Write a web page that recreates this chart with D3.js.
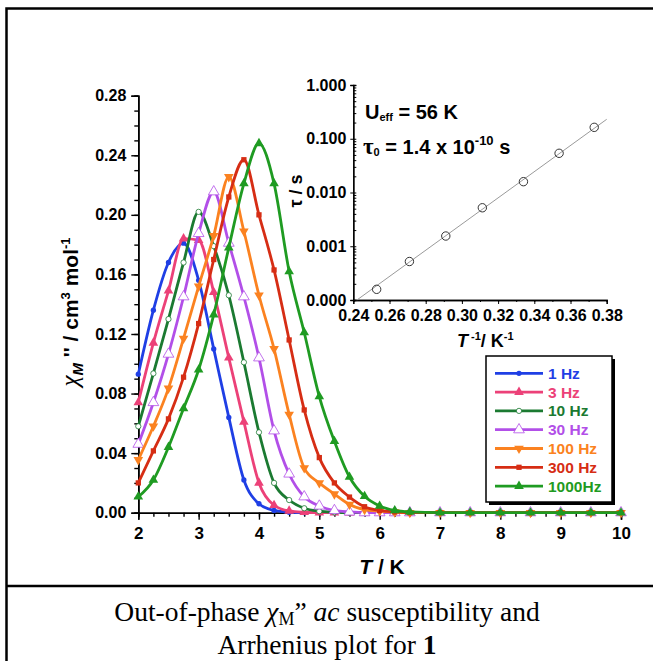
<!DOCTYPE html>
<html>
<head>
<meta charset="utf-8">
<script src="https://cdnjs.cloudflare.com/ajax/libs/d3/7.8.5/d3.min.js"></script>
<style>
  body { margin: 0; background: #fff; }
  svg text { font-family: "Liberation Sans", Arial, sans-serif; font-weight: bold; }
</style>
</head>
<body>
<div id="container"></div>
<script>
// temperatures (K)
const temps = [2, 2.25, 2.5, 2.75, 3, 3.25, 3.5, 3.75, 4, 4.25, 4.5, 4.75, 5, 5.25, 5.5, 5.75, 6, 6.25, 6.5, 7, 7.5, 8, 8.5, 9, 9.5, 10]

// chi'' values per frequency
const chi1Hz = [0.093, 0.136, 0.168, 0.181, 0.156, 0.110, 0.064, 0.022, 0.006, 0.0015, 0.0003, 0, 0, 0, 0, 0, 0, 0, 0, 0, 0, 0, 0, 0, 0, 0]
const chi3Hz = [0.074, 0.114, 0.149, 0.184, 0.183, 0.148, 0.104, 0.061, 0.020, 0.005, 0.0012, 0.0003, 0, 0, 0, 0, 0, 0, 0, 0, 0, 0, 0, 0, 0, 0]
const chi10Hz = [0.058, 0.0935, 0.130, 0.168, 0.202, 0.179, 0.146, 0.101, 0.054, 0.020, 0.0085, 0.003, 0.001, 0.0003, 0, 0, 0, 0, 0, 0, 0, 0, 0, 0, 0, 0]
const chi30Hz = [0.046, 0.074, 0.1065, 0.145, 0.1875, 0.2155, 0.181, 0.145, 0.104, 0.055, 0.026, 0.0107, 0.0045, 0.0015, 0.0005, 0, 0, 0, 0, 0, 0, 0, 0, 0, 0, 0]
const chi100Hz = [0.0355, 0.058, 0.0835, 0.117, 0.152, 0.186, 0.2255, 0.189, 0.146, 0.110, 0.066, 0.030, 0.020, 0.0125, 0.0055, 0.002, 0.001, 0.0004, 0, 0, 0, 0, 0, 0, 0, 0]
const chi300Hz = [0.020, 0.0415, 0.063, 0.091, 0.127, 0.170, 0.212, 0.237, 0.200, 0.163, 0.116, 0.069, 0.037, 0.020, 0.0105, 0.004, 0.0015, 0.0005, 0, 0, 0, 0, 0, 0, 0, 0]
const chi1000Hz = [0.0107, 0.022, 0.044, 0.070, 0.096, 0.133, 0.178, 0.221, 0.248, 0.221, 0.162, 0.121, 0.078, 0.048, 0.024, 0.011, 0.0045, 0.0015, 0.0005, 0, 0, 0, 0, 0, 0, 0]

const seriesNames = ["1 Hz", "3 Hz", "10 Hz", "30 Hz", "100 Hz", "300 Hz", "1000Hz"]

// arrhenius inset
const invT = [0.2529, 0.271, 0.2911, 0.3113, 0.334, 0.3537, 0.3731]
const tau = [0.000158, 0.00052, 0.00155, 0.0052, 0.0159, 0.0536, 0.163]
const fitInvT = [0.242, 0.38]
const fitTau = [0.0001, 0.23]

const yTicks = [0, 0.04, 0.08, 0.12, 0.16, 0.20, 0.24, 0.28]
const xTicks = [2, 3, 4, 5, 6, 7, 8, 9, 10]
const insetXTicks = [0.24, 0.26, 0.28, 0.30, 0.32, 0.34, 0.36, 0.38]
const insetYTicks = [0.0001, 0.001, 0.01, 0.1, 1]

const W = 653, H = 661

const styles = [
  {color: "#1f3fe5", sym: d3.symbolCircle, size: 22, fill: "full", rot: 0},
  {color: "#ec4178", sym: d3.symbolTriangle, size: 40, fill: "full", rot: 0},
  {color: "#1b7a31", sym: d3.symbolCircle, size: 22, fill: "open", rot: 0},
  {color: "#b24fe8", sym: d3.symbolTriangle, size: 50, fill: "open", rot: 0},
  {color: "#fb8220", sym: d3.symbolTriangle, size: 40, fill: "full", rot: 180},
  {color: "#d62d14", sym: d3.symbolSquare, size: 28, fill: "full", rot: 0},
  {color: "#1f9b22", sym: d3.symbolTriangle, size: 40, fill: "full", rot: 0}
]
const allSeries = [chi1Hz, chi3Hz, chi10Hz, chi30Hz, chi100Hz, chi300Hz, chi1000Hz]

const svg = d3.select("#container")
  .append("svg")
  .attr("width", W)
  .attr("height", H)

// frame
svg.append("path")
  .attr("d", "M6.5,700 V8.5 H700")
  .attr("fill", "none").attr("stroke", "#000").attr("stroke-width", 2.5)
svg.append("line")
  .attr("x1", 6).attr("x2", 700).attr("y1", 586).attr("y2", 586)
  .attr("stroke", "#000").attr("stroke-width", 2.5)

// main chart
const x = d3.scaleLinear().domain([2, 10]).range([138.3, 621])
const y = d3.scaleLinear().domain([0, 0.28]).range([512.7, 95.7])

svg.append("g")
  .attr("transform", "translate(138.3,0)")
  .call(d3.axisLeft(y).tickValues(d3.range(0, 0.2801, 0.01)).tickSize(4).tickFormat(""))
const yAxis = svg.append("g")
  .attr("transform", "translate(138.3,0)")
  .call(d3.axisLeft(y).tickValues(yTicks).tickSize(7).tickPadding(5).tickFormat(d3.format(".2f")))
yAxis.selectAll("text").style("font-size", "16px")

svg.append("g")
  .attr("transform", "translate(0,512.7)")
  .call(d3.axisBottom(x).tickValues(d3.range(2, 10.01, 0.25)).tickSize(4).tickFormat(""))
const xAxis = svg.append("g")
  .attr("transform", "translate(0,512.7)")
  .call(d3.axisBottom(x).tickValues(xTicks).tickSize(7).tickPadding(7))
xAxis.selectAll("text").style("font-size", "17px")

svg.selectAll(".domain").attr("stroke-width", 1.6)
svg.selectAll(".tick line").attr("stroke-width", 1.4)

// axis titles
const xt = svg.append("text")
  .attr("x", 382).attr("y", 574)
  .attr("text-anchor", "middle")
  .style("font-size", "21px")
xt.append("tspan").style("font-style", "italic").text("T")
xt.append("tspan").text(" / K")

const yt = svg.append("text")
  .attr("transform", "translate(78,312) rotate(-90)")
  .attr("text-anchor", "middle")
  .style("font-size", "21px")
yt.append("tspan").style("font-family", "'Liberation Serif', serif").style("font-style", "italic").style("font-weight", "normal").style("font-size", "25px").text("χ")
yt.append("tspan").attr("dy", 5).style("font-style", "italic").style("font-size", "15px").text("M")
yt.append("tspan").attr("dy", -5).text(" '' / cm")
yt.append("tspan").attr("dy", -8).style("font-size", "13px").text("3")
yt.append("tspan").attr("dy", 8).text(" mol")
yt.append("tspan").attr("dy", -8).style("font-size", "13px").text("-1")

// curves
const line = d3.line()
  .x((d, i) => x(temps[i]))
  .y(d => y(d))
  .curve(d3.curveMonotoneX)

allSeries.forEach((vals, k) => {
  const s = styles[k]
  const g = svg.append("g")
  g.append("path")
    .attr("d", line(vals))
    .attr("fill", "none")
    .attr("stroke", s.color)
    .attr("stroke-width", 2.8)
  g.selectAll("path.m")
    .data(vals)
    .enter()
    .append("path")
    .attr("class", "m")
    .attr("d", d3.symbol().type(s.sym).size(s.size))
    .attr("transform", (d, i) => `translate(${x(temps[i])},${y(d)}) rotate(${s.rot})`)
    .attr("fill", s.fill === "open" ? "#fff" : s.color)
    .attr("stroke", s.fill === "open" ? s.color : "none")
    .attr("stroke-width", 0.8)
})

// legend
const lg = svg.append("g")
lg.append("rect").attr("x", 489).attr("y", 359).attr("width", 126).attr("height", 146).attr("fill", "#000")
lg.append("rect").attr("x", 486).attr("y", 356).attr("width", 126).attr("height", 146)
  .attr("fill", "#fff").attr("stroke", "#000").attr("stroke-width", 1.5)
seriesNames.forEach((name, k) => {
  const s = styles[k]
  const ly = 373.3 + k * 18.8
  lg.append("line").attr("x1", 495).attr("x2", 543).attr("y1", ly).attr("y2", ly)
    .attr("stroke", s.color).attr("stroke-width", 2.8)
  lg.append("path")
    .attr("d", d3.symbol().type(s.sym).size(s.size))
    .attr("transform", `translate(519,${ly}) rotate(${s.rot})`)
    .attr("fill", s.fill === "open" ? "#fff" : s.color)
    .attr("stroke", s.fill === "open" ? s.color : "none")
    .attr("stroke-width", 0.8)
  lg.append("text").attr("x", 548).attr("y", ly + 5.5)
    .attr("fill", s.color).style("font-size", "15.5px").text(name)
})

// inset
const xi = d3.scaleLinear().domain([0.24, 0.38]).range([353.3, 606.7])
const yi = d3.scaleLog().domain([0.0001, 1]).range([300, 85])

const inset = svg.append("g")
inset.append("g").attr("transform", "translate(353.3,0)")
  .call(d3.axisLeft(yi).tickValues(yi.ticks().filter(v => v < 1.0001)).tickSize(-3).tickFormat(""))
const iy = inset.append("g").attr("transform", "translate(353.3,0)")
  .call(d3.axisLeft(yi).tickValues(insetYTicks).tickSize(3).tickPadding(4).tickFormat(d3.format(".3f")))
iy.selectAll("text").style("font-size", "16px")
inset.append("g").attr("transform", "translate(0,300)")
  .call(d3.axisBottom(xi).tickValues(d3.range(0.24, 0.3801, 0.01)).tickSize(2).tickFormat(""))
const ix = inset.append("g").attr("transform", "translate(0,300)")
  .call(d3.axisBottom(xi).tickValues(insetXTicks).tickSize(4).tickPadding(6).tickFormat(d3.format(".2f")))
ix.selectAll("text").style("font-size", "16px")
inset.selectAll(".domain").attr("stroke-width", 1.3)
inset.selectAll(".tick line").attr("stroke-width", 1)

inset.append("path")
  .attr("d", d3.line().x((d, i) => xi(fitInvT[i])).y(d => yi(d))(fitTau))
  .attr("fill", "none").attr("stroke", "#9a9a9a").attr("stroke-width", 1)
inset.selectAll("circle")
  .data(tau)
  .enter()
  .append("circle")
  .attr("cx", (d, i) => xi(invT[i]))
  .attr("cy", d => yi(d))
  .attr("r", 4.2)
  .attr("fill", "none")
  .attr("stroke", "#333")
  .attr("stroke-width", 1)

const ueff = inset.append("text").attr("x", 365).attr("y", 119).style("font-size", "20px")
ueff.append("tspan").text("U")
ueff.append("tspan").attr("dy", 2).style("font-size", "11px").text("eff")
ueff.append("tspan").attr("dy", -2).text(" = 56 K")

const t0 = inset.append("text").attr("x", 363).attr("y", 154).style("font-size", "20px")
t0.append("tspan").style("font-family", "'Liberation Serif', serif").style("font-size", "23px").text("τ")
t0.append("tspan").attr("dy", 2).style("font-size", "11px").text("0")
t0.append("tspan").attr("dy", -2).text(" = 1.4 x 10")
t0.append("tspan").attr("dy", -9).style("font-size", "13px").text("-10")
t0.append("tspan").attr("dy", 9).text(" s")

inset.append("text")
  .attr("transform", "translate(302,191) rotate(-90)")
  .attr("text-anchor", "middle")
  .style("font-size", "18px")
  .text("τ / s")

const ixt = inset.append("text").attr("x", 457).attr("y", 347).style("font-size", "18px")
ixt.append("tspan").style("font-style", "italic").text("T")
ixt.append("tspan").attr("dy", -7).style("font-size", "11px").text(" -1")
ixt.append("tspan").attr("dy", 7).text("/ K")
ixt.append("tspan").attr("dy", -7).style("font-size", "11px").text("-1")

// caption
const c1 = svg.append("text").attr("x", 327).attr("y", 621).attr("text-anchor", "middle")
  .style("font-family", "'Liberation Serif', serif").style("font-weight", "normal").style("font-size", "27.5px")
c1.append("tspan").text("Out-of-phase ")
c1.append("tspan").style("font-style", "italic").text("χ")
c1.append("tspan").attr("dy", 4).style("font-size", "18px").text("M")
c1.append("tspan").attr("dy", -4).text("” ")
c1.append("tspan").style("font-style", "italic").text("ac")
c1.append("tspan").text(" susceptibility and")
const c2 = svg.append("text").attr("x", 327).attr("y", 654).attr("text-anchor", "middle")
  .style("font-family", "'Liberation Serif', serif").style("font-weight", "normal").style("font-size", "27.5px")
c2.append("tspan").text("Arrhenius plot for ")
c2.append("tspan").style("font-weight", "bold").text("1")
</script>
</body>
</html>
